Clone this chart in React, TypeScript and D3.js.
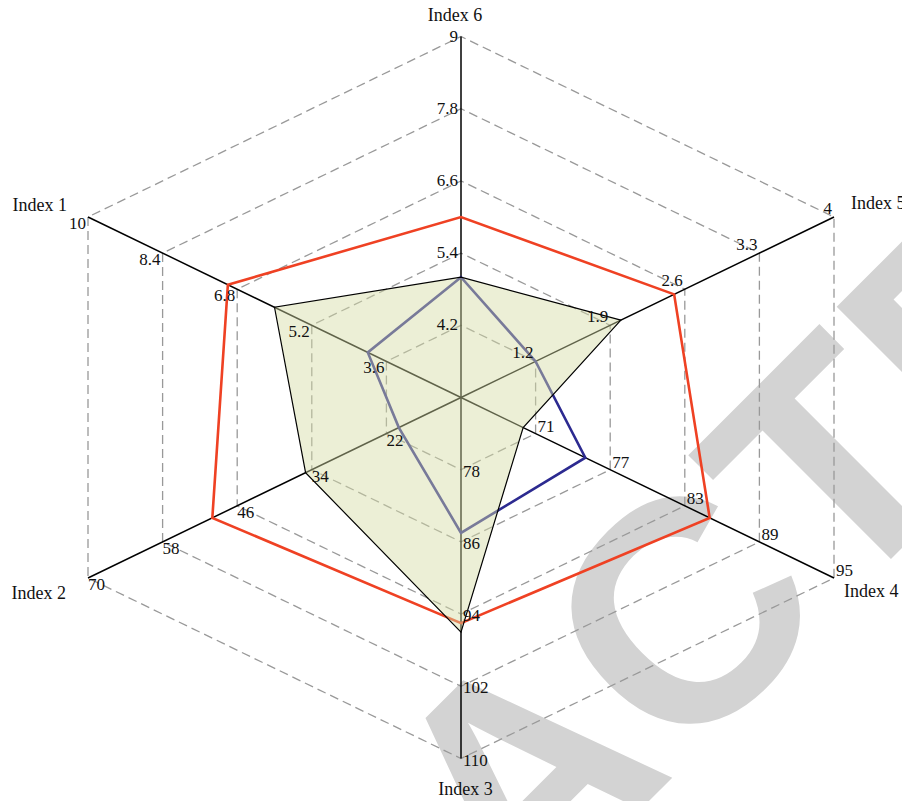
import React from "react";
import * as d3 from "d3";

const axisNames = ["Index 1", "Index 2", "Index 3", "Index 4", "Index 5", "Index 6"];
const axisMin = [2, 10, 70, 65, 0.5, 3];
const axisMax = [10, 70, 110, 95, 4, 9];
const tickLabels = [
  ["3.6", "5.2", "6.8", "8.4", "10"],
  ["22", "34", "46", "58", "70"],
  ["78", "86", "94", "102", "110"],
  ["71", "77", "83", "89", "95"],
  ["1.2", "1.9", "2.6", "3.3", "4"],
  ["4.2", "5.4", "6.6", "7.8", "9"],
];
const seriesRed = [7.0, 50, 95, 85, 2.5, 6.0];
const seriesNavy = [4.0, 20, 85, 75, 1.2, 5.0];
const seriesGreen = [6.0, 35, 96, 70, 2.0, 5.0];

const W = 902, H = 801;
const cx = 461, cy = 397.5;
const Rx = 373 / Math.sin(Math.PI / 3);
const Ry = 361;
const angles = [300, 240, 180, 120, 60, 0].map((d) => (d * Math.PI) / 180);

const scales = axisMin.map((mn, i) => d3.scaleLinear().domain([mn, axisMax[i]]).range([0, 1]));

function pt(i: number, f: number): [number, number] {
  return [cx + f * Rx * Math.sin(angles[i]), cy - f * Ry * Math.cos(angles[i])];
}

// label placement per axis: [anchor, dx, dy]
const tickPlace: [string, number, number][] = [
  ["end", -2, 12],
  ["start", 0, 12],
  ["start", 2, 7],
  ["start", 2, -2],
  ["end", -2, -3],
  ["end", -3, 5],
];
const titlePlace: [string, number, number][] = [
  ["end", -21, -6],
  ["end", -22, 21],
  ["middle", 4.5, 36.5],
  ["start", 10, 19],
  ["start", 17, -8],
  ["middle", -6, -15.5],
];

const line = d3.line<[number, number]>().curve(d3.curveLinearClosed);

function seriesPath(vals: number[]) {
  return line(vals.map((v, i) => pt(i, scales[i](v)))) || "";
}

export default function App() {
  const rings = [1, 2, 3, 4, 5].map((k) => line(axisNames.map((_, i) => pt(i, k / 5))) || "");
  const serif = "'Liberation Serif', 'DejaVu Serif', serif";
  return (
    <svg width={W} height={H} style={{ position: "absolute", left: 0, top: 0, background: "#fff" }}>
      <text
        transform="translate(597.7,852.3) rotate(-45)"
        textAnchor="middle"
        fontFamily="'Liberation Sans', Arial, sans-serif"
        fontWeight="bold"
        fontSize={315}
        fill="#d3d3d3"
      >
        RETRACTED
      </text>
      {rings.map((d, k) => (
        <path key={k} d={d} fill="none" stroke="#999" strokeWidth={1.3} strokeDasharray="9,5" />
      ))}
      {axisNames.map((_, i) => {
        const [x, y] = pt(i, 1);
        return <line key={i} x1={cx} y1={cy} x2={x} y2={y} stroke="#000" strokeWidth={1.5} />;
      })}
      <path d={seriesPath(seriesRed)} fill="none" stroke="#ef4123" strokeWidth={2.6} />
      <path d={seriesPath(seriesNavy)} fill="none" stroke="#2c2a90" strokeWidth={2.6} />
      <path
        d={seriesPath(seriesGreen)}
        fill="rgb(213,220,164)"
        fillOpacity={0.45}
        stroke="#000"
        strokeWidth={1.2}
      />
      {tickLabels.map((labels, i) =>
        labels.map((lab, k) => {
          const [x, y] = pt(i, (k + 1) / 5);
          const [anchor, dx, dy] = tickPlace[i];
          return (
            <text key={i + "-" + k} x={x + dx} y={y + dy} textAnchor={anchor as any} fontFamily={serif} fontSize={17} fill="#111">
              {lab}
            </text>
          );
        })
      )}
      {axisNames.map((name, i) => {
        const [x, y] = pt(i, 1);
        const [anchor, dx, dy] = titlePlace[i];
        return (
          <text key={name} x={x + dx} y={y + dy} textAnchor={anchor as any} fontFamily={serif} fontSize={18} fill="#111">
            {name}
          </text>
        );
      })}
    </svg>
  );
}
